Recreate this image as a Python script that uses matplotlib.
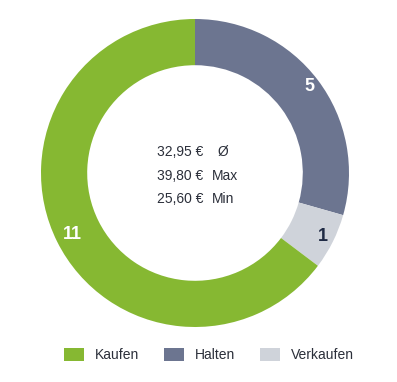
import matplotlib.pyplot as plt
from matplotlib.patches import Patch
import numpy as np

plt.rcParams['font.family'] = ['Liberation Sans', 'DejaVu Sans']

categories = ['Halten', 'Verkaufen', 'Kaufen']
counts = [5, 1, 11]
colors = ['#6c7590', '#cfd3da', '#86b832']
label_colors = ['white', '#1f2a44', 'white']
label_radius = [0.93, 0.93, 0.89]

legend_order = ['Kaufen', 'Halten', 'Verkaufen']

center_values = ['32,95 €', '39,80 €', '25,60 €']
center_labels = ['Ø', 'Max', 'Min']

fig = plt.figure(figsize=(3.97, 3.82), dpi=100)
ax = fig.add_axes([41 / 397, 55 / 382, 308 / 397, 308 / 382])

wedges, _ = ax.pie(counts, colors=colors, startangle=90, counterclock=False,
                   radius=1, wedgeprops=dict(width=0.30, linewidth=0))
ax.set_xlim(-1, 1)
ax.set_ylim(-1, 1)
ax.set_aspect('equal')
ax.axis('off')

for w, n, c, r in zip(wedges, counts, label_colors, label_radius):
    mid = np.deg2rad((w.theta1 + w.theta2) / 2)
    ax.text(r * np.cos(mid), r * np.sin(mid), str(n), ha='center', va='center',
            fontsize=13, fontweight='bold', color=c)

ys = [0.136, -0.019, -0.169]
for y, v, l in zip(ys, center_values, center_labels):
    ax.text(0.052, y, v, ha='right', va='center', fontsize=10, color='#2b2f3a')
    lx = 0.149 if l == 'Ø' else 0.11
    ax.text(lx, y, l, ha='left', va='center', fontsize=10, color='#2b2f3a')

handles = [Patch(facecolor=colors[categories.index(n)], edgecolor='none') for n in legend_order]
fig.legend(handles, legend_order, loc='center', bbox_to_anchor=(209 / 397, 1 - 355 / 382),
           ncol=3, frameon=False, fontsize=10, handlelength=1.44, handleheight=1.08,
           handletextpad=0.8, columnspacing=1.8, labelcolor='#2b2f3a')

fig.savefig('out.png', dpi=100, facecolor='white')
